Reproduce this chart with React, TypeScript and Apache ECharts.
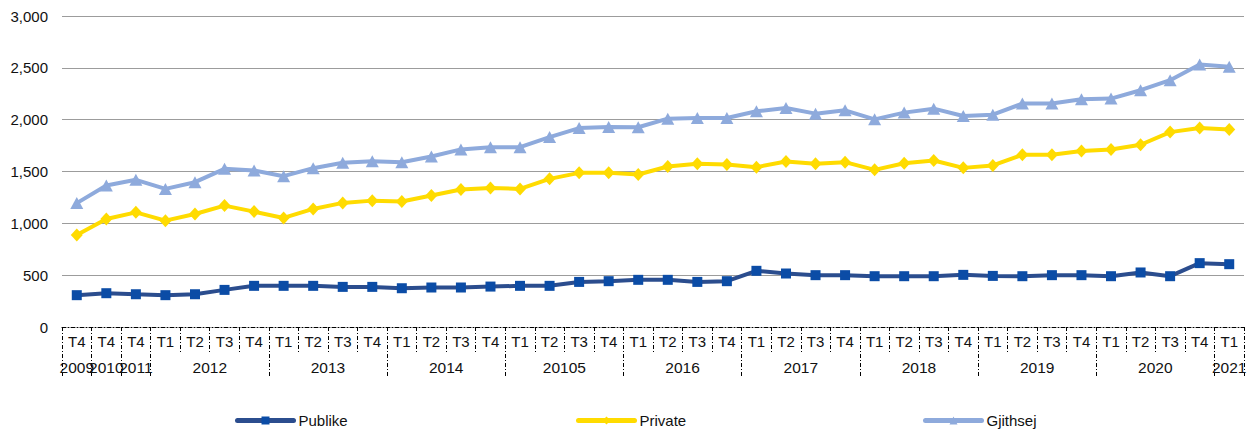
import React, { useEffect, useRef } from "react";
import * as echarts from "echarts";

// Quarters grouped by year (the 2015 group keeps its printed label "20105")
const yearLabels = ["2009", "2010", "2011", "2012", "2013", "2014", "20105", "2016", "2017", "2018", "2019", "2020", "2021"];
const yearQuarters = [
  ["T4"], ["T4"], ["T4"],
  ["T1", "T2", "T3", "T4"], ["T1", "T2", "T3", "T4"], ["T1", "T2", "T3", "T4"],
  ["T1", "T2", "T3", "T4"], ["T1", "T2", "T3", "T4"], ["T1", "T2", "T3", "T4"],
  ["T1", "T2", "T3", "T4"], ["T1", "T2", "T3", "T4"], ["T1", "T2", "T3", "T4"],
  ["T1"],
];

const publike = [
  307, 326, 316, 307, 316, 358, 397, 397, 397, 387, 387, 374,
  381, 381, 390, 397, 397, 435, 442, 455, 455, 435, 442, 542,
  516, 500, 500, 490, 490, 490, 503, 493, 490, 500, 500, 490,
  526, 490, 616, 606,
];
const privateSector = [
  887, 1042, 1106, 1026, 1090, 1171, 1113, 1052, 1139, 1197, 1219, 1210,
  1268, 1326, 1342, 1332, 1429, 1487, 1487, 1471, 1548, 1574, 1568, 1542,
  1597, 1574, 1590, 1516, 1580, 1606, 1535, 1558, 1661, 1661, 1697, 1713,
  1758, 1880, 1919, 1906,
];
const gjithsej = [
  1195, 1365, 1420, 1332, 1397, 1526, 1510, 1455, 1532, 1584, 1600, 1590,
  1645, 1713, 1735, 1735, 1832, 1919, 1929, 1927, 2010, 2016, 2016, 2081,
  2113, 2058, 2090, 2003, 2068, 2106, 2035, 2048, 2155, 2155, 2197, 2203,
  2284, 2381, 2532, 2510,
];

const quarterLabels: string[] = yearQuarters.flat();

// Year group boundaries and centres on a 0..N scale aligned with the category bands
const yearBounds: number[] = [0];
const yearCenters: number[] = [];
yearQuarters.forEach((q) => {
  const start = yearBounds[yearBounds.length - 1];
  yearCenters.push(start + q.length / 2);
  yearBounds.push(start + q.length);
});

const dashDot = [4, 2, 1, 2];
const FONT = "Liberation Sans, Arial, sans-serif";

export default function App() {
  const ref = useRef<HTMLDivElement>(null);

  useEffect(() => {
    if (!ref.current) return;
    const chart = echarts.init(ref.current, undefined, { renderer: "svg" });

    const legendCommon = {
      top: 408,
      itemWidth: 56,
      itemHeight: 10,
      itemGap: 8,
      lineStyle: { width: 5, cap: "round" },
      textStyle: { fontFamily: FONT, fontSize: 15, color: "#111" },
    };

    chart.setOption({
      animation: false,
      backgroundColor: "#ffffff",
      grid: { left: 62, right: 14, top: 16, bottom: 103, containLabel: false },
      legend: [
        { ...legendCommon, left: 230, data: ["Publike"] },
        { ...legendCommon, left: 571, data: ["Private"] },
        { ...legendCommon, left: 918, data: ["Gjithsej"] },
      ],
      xAxis: [
        {
          type: "category",
          data: quarterLabels,
          boundaryGap: true,
          position: "bottom",
          axisLine: { show: true, lineStyle: { color: "#000", width: 1, type: dashDot } },
          axisTick: {
            show: true,
            interval: 0,
            length: 26,
            lineStyle: { color: "#000", width: 1, type: dashDot },
          },
          axisLabel: {
            interval: 0,
            margin: 7,
            fontFamily: FONT,
            fontSize: 15,
            color: "#111",
          },
          splitLine: { show: false },
        },
        {
          // year-group dividers, on the same 0..N span as the quarter bands
          type: "value",
          min: 0,
          max: quarterLabels.length,
          position: "bottom",
          offset: 0,
          axisLine: { show: false },
          splitLine: { show: false },
          axisLabel: { show: false },
          axisTick: {
            show: true,
            customValues: yearBounds,
            length: 51,
            lineStyle: { color: "#000", width: 1, type: dashDot },
          },
        },
      ],
      yAxis: {
        type: "value",
        min: 0,
        max: 3000,
        interval: 500,
        axisLine: { show: false },
        axisTick: { show: false },
        axisLabel: {
          margin: 14,
          fontFamily: FONT,
          fontSize: 15,
          color: "#111",
          formatter: (v: number) => v.toLocaleString("en-US"),
        },
        splitLine: { show: true, showMinLine: false, lineStyle: { color: "#9c9c9c", width: 1 } },
      },
      series: [
        {
          name: "Publike",
          type: "line",
          data: publike,
          symbol: "rect",
          symbolSize: 10,
          lineStyle: { color: "#2B4D8E", width: 4 },
          itemStyle: { color: "#0B4CA6" },
          z: 3,
        },
        {
          name: "Private",
          type: "line",
          data: privateSector,
          symbol: "diamond",
          symbolSize: [12, 13],
          lineStyle: { color: "#FFDB00", width: 4 },
          itemStyle: { color: "#FFDB00" },
          z: 3,
        },
        {
          name: "Gjithsej",
          type: "line",
          data: gjithsej,
          symbol: "triangle",
          symbolSize: [13, 12],
          lineStyle: { color: "#8EAADC", width: 4 },
          itemStyle: { color: "#8EAADC" },
          z: 3,
        },
        {
          // year labels centred under each group of quarters
          name: "years",
          type: "custom",
          xAxisIndex: 1,
          clip: false,
          silent: true,
          data: yearCenters.map((c, i) => [c, 0, yearLabels[i]]),
          renderItem: (params: any, api: any) => {
            const pt = api.coord([api.value(0), 0]);
            const i = params.dataIndex;
            return {
              type: "text",
              x: pt[0],
              y: pt[1] + 40,
              style: {
                text: yearLabels[i],
                textAlign: "center",
                textVerticalAlign: "middle",
                font: `15.5px ${FONT}`,
                fill: "#111",
              },
            };
          },
        },
      ],
    });

    return () => chart.dispose();
  }, []);

  return (
    <div
      ref={ref}
      style={{ position: "absolute", left: 0, top: 0, width: 1258, height: 430 }}
    />
  );
}
